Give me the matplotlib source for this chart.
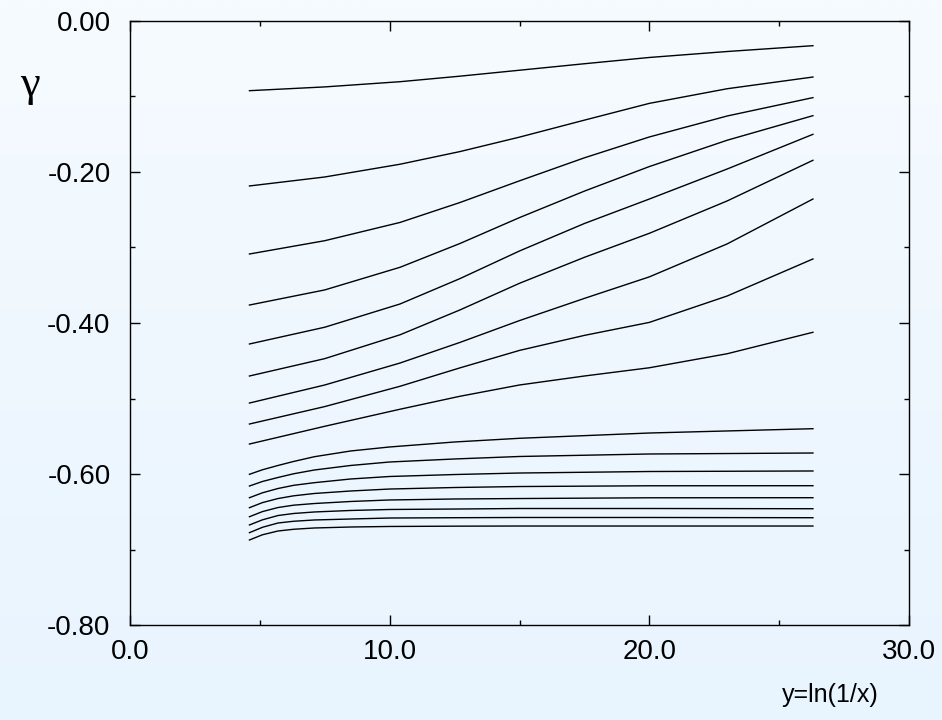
import numpy as np
import matplotlib
matplotlib.use('Agg')
import matplotlib.pyplot as plt
from matplotlib.ticker import MultipleLocator, FormatStrFormatter

plt.rcParams['font.family'] = ['Liberation Sans', 'DejaVu Sans']

# upper family of curves, sampled at these y values
Y_UP = [4.6, 7.5, 10.4, 12.7, 15.0, 17.5, 20.0, 23.0, 26.3]
G_UP = [
    [-0.0923, -0.0873, -0.0804, -0.0731, -0.0652, -0.0566, -0.0483, -0.0404, -0.0327],
    [-0.2185, -0.2066, -0.1897, -0.1730, -0.1538, -0.1313, -0.1091, -0.0897, -0.0742],
    [-0.3086, -0.2910, -0.2668, -0.2405, -0.2117, -0.1812, -0.1536, -0.1258, -0.1015],
    [-0.3762, -0.3562, -0.3262, -0.2948, -0.2604, -0.2253, -0.1928, -0.1579, -0.1254],
    [-0.4278, -0.4056, -0.3748, -0.3413, -0.3046, -0.2682, -0.2358, -0.1960, -0.1501],
    [-0.4702, -0.4472, -0.4156, -0.3828, -0.3474, -0.3130, -0.2812, -0.2383, -0.1845],
    [-0.5060, -0.4821, -0.4530, -0.4258, -0.3968, -0.3674, -0.3389, -0.2952, -0.2358],
    [-0.5338, -0.5107, -0.4838, -0.4595, -0.4363, -0.4164, -0.3992, -0.3642, -0.3152],
    [-0.5603, -0.5368, -0.5142, -0.4971, -0.4821, -0.4702, -0.4593, -0.4407, -0.4123],
]

# lower family, flattening out quickly
Y_LO = [4.6, 5.1, 5.7, 6.3, 7.1, 8.5, 10.0, 12.5, 15.0, 20.0, 26.3]
G_LO = [
    [-0.6004, -0.5944, -0.5887, -0.5834, -0.5771, -0.5695, -0.5642, -0.5576, -0.5527, -0.5457, -0.5400],
    [-0.6159, -0.6099, -0.6046, -0.5997, -0.5947, -0.5887, -0.5841, -0.5801, -0.5768, -0.5735, -0.5722],
    [-0.6314, -0.6249, -0.6192, -0.6150, -0.6115, -0.6066, -0.6033, -0.6007, -0.5987, -0.5967, -0.5960],
    [-0.6446, -0.6379, -0.6325, -0.6289, -0.6258, -0.6225, -0.6199, -0.6179, -0.6166, -0.6156, -0.6155],
    [-0.6566, -0.6498, -0.6444, -0.6413, -0.6391, -0.6364, -0.6344, -0.6331, -0.6325, -0.6315, -0.6314],
    [-0.6675, -0.6607, -0.6550, -0.6523, -0.6503, -0.6483, -0.6470, -0.6464, -0.6457, -0.6457, -0.6460],
    [-0.6777, -0.6706, -0.6649, -0.6626, -0.6609, -0.6596, -0.6583, -0.6579, -0.6576, -0.6576, -0.6579],
    [-0.6874, -0.6805, -0.6755, -0.6732, -0.6715, -0.6702, -0.6695, -0.6691, -0.6689, -0.6689, -0.6689],
]

fig = plt.figure(figsize=(9.42, 7.2), dpi=100)

# pale blue backdrop, lighter at the top
bg = fig.add_axes([0, 0, 1, 1], zorder=-1)
grad = np.linspace(0, 1, 256).reshape(-1, 1)
cmap = matplotlib.colors.LinearSegmentedColormap.from_list('bg', ['#f6fbff', '#e8f4fe'])
bg.imshow(grad, aspect='auto', cmap=cmap, extent=[0, 1, 0, 1])
bg.axis('off')

ax = fig.add_axes([130/942, 1 - 625/720, 779/942, 604/720])
ax.patch.set_alpha(0)

for g in G_UP:
    ax.plot(Y_UP, g, color='black', lw=1)
for g in G_LO:
    ax.plot(Y_LO, g, color='black', lw=1)

ax.set_xlim(0, 30)
ax.set_ylim(-0.8, 0)
ax.xaxis.set_major_locator(MultipleLocator(10))
ax.xaxis.set_minor_locator(MultipleLocator(5))
ax.yaxis.set_major_locator(MultipleLocator(0.2))
ax.yaxis.set_minor_locator(MultipleLocator(0.1))
ax.xaxis.set_major_formatter(FormatStrFormatter('%.1f'))
ax.yaxis.set_major_formatter(FormatStrFormatter('%.2f'))
ax.tick_params(which='both', direction='in', top=True, right=True, labelsize=20)
ax.tick_params(which='major', length=7, width=1)
ax.tick_params(which='minor', length=3.5, width=1)
ax.tick_params(axis='x', pad=10)
ax.tick_params(axis='y', pad=14)
for s in ax.spines.values():
    s.set_linewidth(1)

fig.text(30/942, 1 - 85/720, 'γ', fontsize=32, ha='center', va='center',
         family=['Liberation Serif', 'DejaVu Serif'])
fig.text(830/942, 1 - 695/720, 'y=ln(1/x)', fontsize=18, ha='center', va='center')

fig.savefig('out.png', dpi=100)
